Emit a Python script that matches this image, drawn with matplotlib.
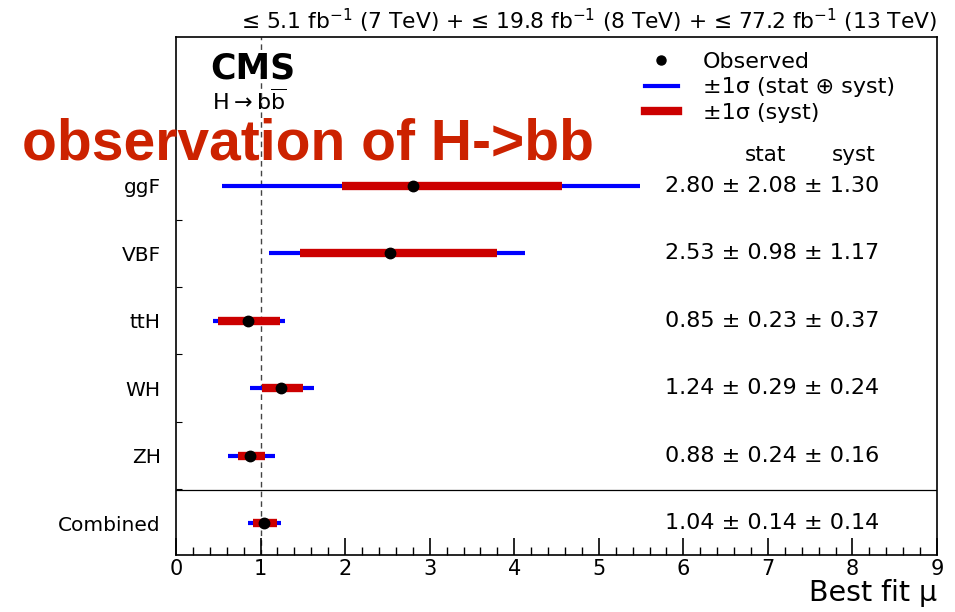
import numpy as np
import matplotlib.pyplot as plt
from matplotlib.lines import Line2D

plt.rcParams['font.family'] = ['DejaVu Sans']
plt.rcParams['mathtext.fontset'] = 'dejavusans'

# channels, top to bottom
channels = ['ggF', 'VBF', 'ttH', 'WH', 'ZH', 'Combined']
mu = [2.80, 2.53, 0.85, 1.24, 0.88, 1.04]
# total (stat+syst) interval
tot_lo = [0.54, 1.10, 0.44, 0.88, 0.62, 0.85]
tot_hi = [5.49, 4.13, 1.29, 1.63, 1.17, 1.24]
# syst interval
syst_lo = [1.96, 1.47, 0.50, 1.02, 0.73, 0.91]
syst_hi = [4.56, 3.80, 1.23, 1.50, 1.05, 1.19]
value_text = ['2.80 \u00b1 2.08 \u00b1 1.30', '2.53 \u00b1 0.98 \u00b1 1.17',
              '0.85 \u00b1 0.23 \u00b1 0.37', '1.24 \u00b1 0.29 \u00b1 0.24',
              '0.88 \u00b1 0.24 \u00b1 0.16', '1.04 \u00b1 0.14 \u00b1 0.14']

blue = '#0000ff'
red = '#cc0000'

fig = plt.figure(figsize=(9.55, 6.12), dpi=100)
ax = fig.add_axes([0.1843, 0.0931, 0.7969, 0.8464])

y = np.arange(len(channels))[::-1]  # Combined at 0, ggF at 5

ax.hlines(y, tot_lo, tot_hi, color=blue, lw=3.0, zorder=2)
ax.hlines(y, syst_lo, syst_hi, color=red, lw=6.0, zorder=3)
ax.plot(mu, y, 'o', color='black', ms=7.5, zorder=4)

ax.axvline(1.0, color='#444444', lw=1.0, ls=(0, (4, 3)), zorder=1)
ax.axhline(0.49, color='black', lw=0.9)

for yi, t in zip(y, value_text):
    ax.text(5.78, yi, t, ha='left', va='center', fontsize=16)
ax.text(6.73, 5.46, 'stat', ha='left', va='center', fontsize=15.5)
ax.text(7.76, 5.46, 'syst', ha='left', va='center', fontsize=15.5)

ax.text(0.40, 6.75, 'CMS', fontsize=25, fontweight='bold', va='center')
ax.text(0.43, 6.26, r'H$\rightarrow$b$\overline{\mathrm{b}}$', fontsize=16, va='center')

# legend
handles = [Line2D([], [], marker='o', color='black', ls='none', ms=6.5),
           Line2D([], [], color=blue, lw=3.0),
           Line2D([], [], color=red, lw=6.0)]
labels = ['Observed', '\u00b11\u03c3 (stat \u2295 syst)', '\u00b11\u03c3 (syst)']
ax.legend(handles, labels, loc='upper left', bbox_to_anchor=(0.616, 0.972),
          frameon=False, fontsize=16, handlelength=1.5, handletextpad=1.1,
          labelspacing=0.26, borderpad=0, borderaxespad=0)

ax.set_xlim(0, 9)
ax.set_ylim(-0.475, 7.21)
ax.set_xticks(range(10))
ax.set_xticks(np.arange(0, 9.01, 0.2), minor=True)
ax.tick_params(axis='x', which='major', direction='in', length=12, width=1.2,
               labelsize=15, pad=3)
ax.tick_params(axis='x', which='minor', direction='in', length=6, width=1.0)
ax.set_yticks(y)
ax.set_yticklabels(channels)
ax.set_yticks(np.arange(0.5, 5.0, 1.0), minor=True)
ax.tick_params(axis='y', which='major', length=0, labelsize=14.5, pad=11)
ax.tick_params(axis='y', which='minor', direction='in', length=4, width=0.8)
for sp in ax.spines.values():
    sp.set_linewidth(1.2)

ax.set_xlabel('Best fit \u03bc', fontsize=20.5, loc='right', labelpad=0)

fig.text(0.981, 0.953,
         '\u2264 5.1 fb$^{-1}$ (7 TeV) + \u2264 19.8 fb$^{-1}$ (8 TeV) + \u2264 77.2 fb$^{-1}$ (13 TeV)',
         ha='right', va='baseline', fontsize=15.7)

fig.text(0.023, 0.739, 'observation of H->bb', color='#cc2200', fontsize=41,
         fontweight='bold', family='Liberation Sans', ha='left', va='baseline')

fig.savefig('out.png', dpi=100)
